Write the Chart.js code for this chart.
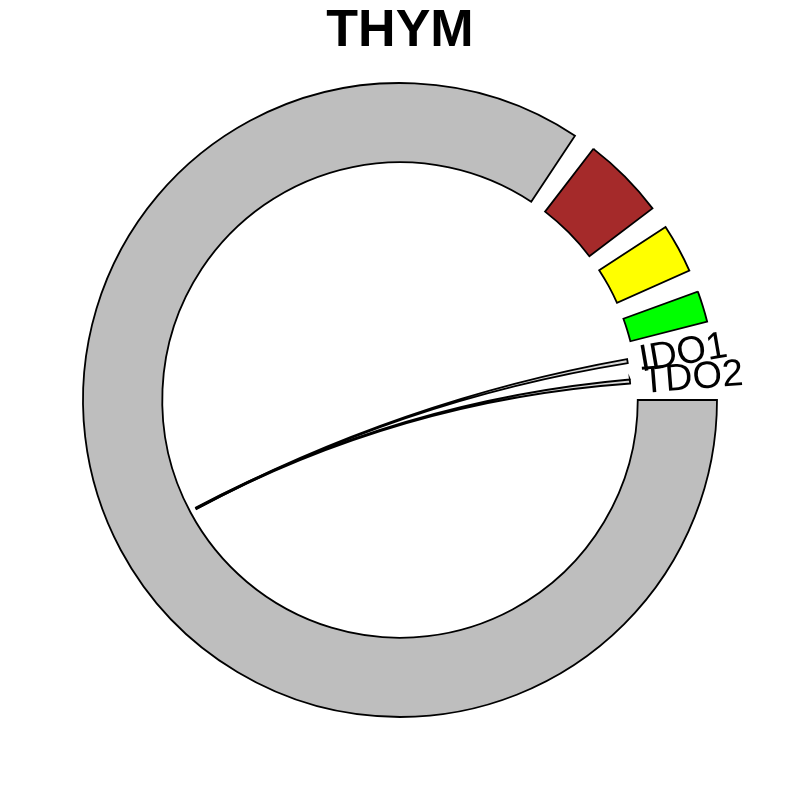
<!DOCTYPE html>
<html>
<head>
<meta charset="utf-8">
<script src="https://cdn.jsdelivr.net/npm/chart.js@4/dist/chart.umd.min.js"></script>
<style>
  body { margin: 0; background: #fff; }
</style>
</head>
<body>
<canvas id="myChart" width="800" height="800"></canvas>
<script>
// sectors, in angular units (degrees of the circle)
var sectorNames = ["other", "sector1", "sector2", "sector3", "IDO1", "TDO2"];
var sectorSizes = [303.5, 15.2, 9.0, 5.7, 1.0, 1.0];
var sectorColors = ["#BEBEBE", "#A52A2A", "#FFFF00", "#00FF00", null, null];
var labelledSectors = ["IDO1", "TDO2"];
var gapSize = 4.1;

// links between sectors (target position / width in target sector units)
var linkFrom = ["IDO1", "TDO2"];
var linkTo = ["other", "other"];
var linkToPos = [151.8, 151.9];
var linkToWidth = [0.3, 0.3];

var chartTitle = "THYM";

Chart.defaults.font.family = "'Liberation Sans', Arial, sans-serif";

// interleave sectors and gaps
var labels = [];
var values = [];
var fills = [];
var borderWidths = [];
for (let i = 0; i < sectorNames.length; i++) {
  labels.push(sectorNames[i]);
  values.push(sectorSizes[i]);
  fills.push(sectorColors[i] || "rgba(0,0,0,0)");
  borderWidths.push(sectorColors[i] ? 1.8 : 0);
  labels.push("");
  values.push(gapSize);
  fills.push("rgba(0,0,0,0)");
  borderWidths.push(0);
}

var arcOf = (arcs, name) => arcs[2 * sectorNames.indexOf(name)];

var chordPlugin = {
  id: "chords",
  afterDatasetsDraw(chart) {
    var ctx = chart.ctx;
    var arcs = chart.getDatasetMeta(0).data;
    var cx = arcs[0].x;
    var cy = arcs[0].y;
    var rc = arcs[0].innerRadius - 7;

    ctx.save();
    for (let k = 0; k < linkFrom.length; k++) {
      var s = arcOf(arcs, linkFrom[k]);
      var t = arcOf(arcs, linkTo[k]);
      var ti = sectorNames.indexOf(linkTo[k]);
      var unit = (t.endAngle - t.startAngle) / sectorSizes[ti];
      var t0 = t.startAngle + linkToPos[k] * unit;
      var t1 = t0 + linkToWidth[k] * unit;
      var s0 = s.startAngle;
      var s1 = s.endAngle;
      ctx.beginPath();
      ctx.arc(cx, cy, rc, s0, s1);
      ctx.quadraticCurveTo(cx, cy, cx + rc * Math.cos(t0), cy + rc * Math.sin(t0));
      ctx.arc(cx, cy, rc, t0, t1);
      ctx.quadraticCurveTo(cx, cy, cx + rc * Math.cos(s0), cy + rc * Math.sin(s0));
      ctx.closePath();
      ctx.fillStyle = "rgba(190,190,190,0.6)";
      ctx.fill();
      ctx.lineWidth = 1.8;
      ctx.strokeStyle = "#000";
      ctx.stroke();
    }

    // sector labels, radial
    ctx.fillStyle = "#000";
    ctx.font = "38px 'Liberation Sans', Arial, sans-serif";
    ctx.textAlign = "left";
    ctx.textBaseline = "middle";
    labelledSectors.forEach(name => {
      var a = arcOf(arcs, name);
      var mid = (a.startAngle + a.endAngle) / 2;
      ctx.save();
      ctx.translate(cx, cy);
      ctx.rotate(mid);
      ctx.fillText(name, a.innerRadius + 5, 2);
      ctx.restore();
    });
    ctx.restore();
  }
};

new Chart(document.getElementById("myChart"), {
  type: "doughnut",
  data: {
    labels: labels,
    datasets: [
      {
        data: values,
        backgroundColor: fills,
        borderColor: "#000",
        borderWidth: borderWidths,
        borderJoinStyle: "miter",
        hoverOffset: 0
      }
    ]
  },
  options: {
    responsive: false,
    animation: false,
    events: [],
    rotation: 90,
    radius: 317,
    cutout: "75%",
    layout: { padding: { top: 0, bottom: 80, left: 0, right: 0 } },
    plugins: {
      legend: { display: false },
      tooltip: { enabled: false },
      title: {
        display: true,
        text: chartTitle,
        color: "#000",
        font: { size: 52, weight: "bold" },
        padding: { top: 0, bottom: 17.6 }
      }
    }
  },
  plugins: [chordPlugin]
});
</script>
</body>
</html>
